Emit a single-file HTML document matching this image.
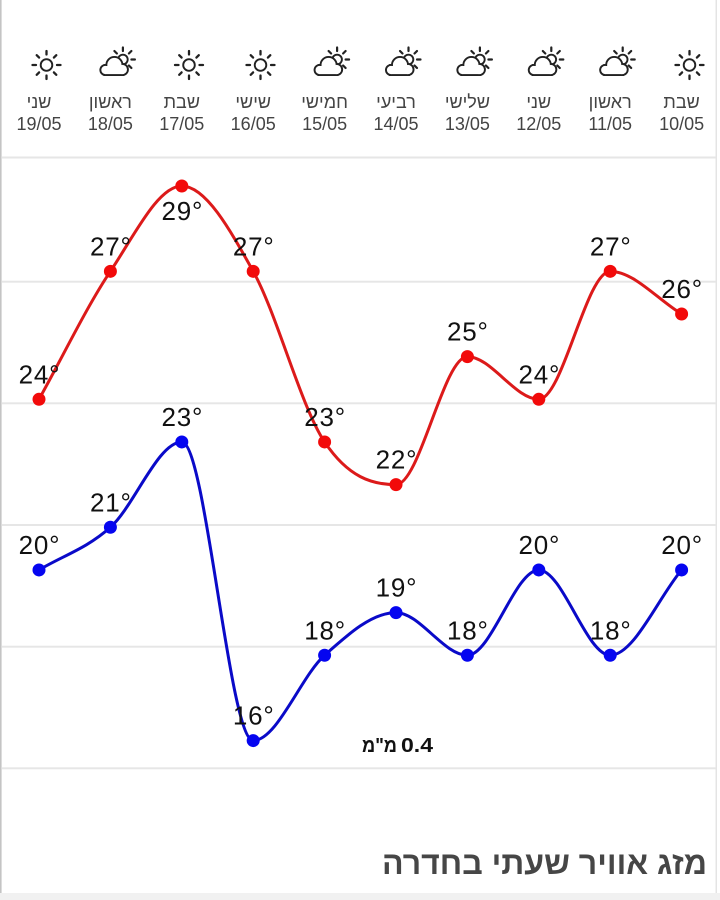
<!DOCTYPE html>
<html>
<head>
<meta charset="utf-8">
<style>
  html,body{margin:0;padding:0;background:#fff;}
  body{width:720px;height:900px;overflow:hidden;position:relative;}
  svg{position:absolute;left:0;top:0;}
  .day{font-family:"Liberation Sans","DejaVu Sans",sans-serif;font-size:18px;fill:#444;}
  .lbl{font-family:"Liberation Sans","DejaVu Sans",sans-serif;font-size:26px;fill:#111;letter-spacing:0.8px;}
</style>
</head>
<body>
<svg width="720" height="900" viewBox="0 0 720 900" xmlns="http://www.w3.org/2000/svg">
  <defs>
    <g id="sun" fill="none" stroke="#222" stroke-width="1.9" stroke-linecap="round">
      <circle cx="0" cy="0" r="5.8"/>
      <g stroke-width="2.3">
        <line x1="0" y1="-10.5" x2="0" y2="-14"/>
        <line x1="0" y1="10.5" x2="0" y2="14"/>
        <line x1="-10.5" y1="0" x2="-14" y2="0"/>
        <line x1="10.5" y1="0" x2="14" y2="0"/>
        <line x1="7.4" y1="-7.4" x2="9.8" y2="-9.8"/>
        <line x1="-7.4" y1="-7.4" x2="-9.8" y2="-9.8"/>
        <line x1="7.4" y1="7.4" x2="9.8" y2="9.8"/>
        <line x1="-7.4" y1="7.4" x2="-9.8" y2="9.8"/>
      </g>
    </g>
    <g id="cloud">
      <g fill="none" stroke="#222" stroke-linecap="round">
        <circle cx="12.5" cy="59.5" r="4.8" stroke-width="1.9"/>
        <g stroke-width="2.2">
          <line x1="12.5" y1="51" x2="12.5" y2="47.5"/>
          <line x1="18.5" y1="53.5" x2="21" y2="51"/>
          <line x1="21" y1="59.5" x2="24.5" y2="59.5"/>
          <line x1="18.5" y1="65.5" x2="21" y2="68"/>
          <line x1="6.5" y1="53.5" x2="4" y2="51"/>
        </g>
      </g>
      <g fill="#222" stroke="#222" stroke-width="3.8">
        <circle cx="-5" cy="70" r="4.1"/>
        <circle cx="4" cy="65" r="7.1"/>
        <circle cx="12" cy="69.5" r="4.6"/>
        <rect x="-5" y="66" width="17" height="8.1"/>
      </g>
      <g fill="#fff">
        <circle cx="-5" cy="70" r="4.1"/>
        <circle cx="4" cy="65" r="7.1"/>
        <circle cx="12" cy="69.5" r="4.6"/>
        <rect x="-5" y="66" width="17" height="8.1"/>
      </g>
    </g>
  </defs>

  <!-- borders -->
  <rect x="0" y="0" width="1.6" height="893" fill="#c4c4c4"/>
  <rect x="715.5" y="0" width="1.5" height="893" fill="#e4e4e4"/>
  <rect x="0" y="893" width="720" height="7" fill="#f1f1f1"/>

  <!-- icons -->
  <use href="#sun" x="46.5" y="65"/>
  <use href="#cloud" x="110.4" y="0"/>
  <use href="#sun" x="189" y="65"/>
  <use href="#sun" x="260.5" y="65"/>
  <use href="#cloud" x="324.6" y="0"/>
  <use href="#cloud" x="396" y="0"/>
  <use href="#cloud" x="467.4" y="0"/>
  <use href="#cloud" x="538.8" y="0"/>
  <use href="#cloud" x="610.2" y="0"/>
  <use href="#sun" x="689.5" y="65"/>

  <!-- day names -->
  <g class="day" text-anchor="middle">
    <text x="39" y="108">שני</text>
    <text x="110.4" y="108">ראשון</text>
    <text x="181.8" y="108">שבת</text>
    <text x="253.2" y="108">שישי</text>
    <text x="324.6" y="108">חמישי</text>
    <text x="396" y="108">רביעי</text>
    <text x="467.4" y="108">שלישי</text>
    <text x="538.8" y="108">שני</text>
    <text x="610.2" y="108">ראשון</text>
    <text x="681.6" y="108">שבת</text>

    <text x="39" y="130">19/05</text>
    <text x="110.4" y="130">18/05</text>
    <text x="181.8" y="130">17/05</text>
    <text x="253.2" y="130">16/05</text>
    <text x="324.6" y="130">15/05</text>
    <text x="396" y="130">14/05</text>
    <text x="467.4" y="130">13/05</text>
    <text x="538.8" y="130">12/05</text>
    <text x="610.2" y="130">11/05</text>
    <text x="681.6" y="130">10/05</text>
  </g>

  <!-- grid lines -->
  <g fill="#e6e6e6">
    <rect x="2" y="156.5" width="714" height="2"/>
    <rect x="2" y="280.7" width="714" height="2"/>
    <rect x="2" y="402.3" width="714" height="2"/>
    <rect x="2" y="524" width="714" height="2"/>
    <rect x="2" y="645.7" width="714" height="2"/>
    <rect x="2" y="767.3" width="714" height="2"/>
  </g>

  <!-- red line -->
  <path fill="none" stroke="#dc1a1a" stroke-width="3" stroke-linejoin="round"
    d="M39,399.3
       C62.8,356.64 86.6,306.87 110.4,271.32
       C134.2,235.77 158,186 181.8,186
       C205.6,186 229.4,228.66 253.2,271.32
       C277,313.98 300.8,406.41 324.6,441.96
       C348.4,477.51 372.2,484.62 396,484.62
       C419.8,484.62 443.6,356.64 467.4,356.64
       C491.2,356.64 515,399.3 538.8,399.3
       C562.6,399.3 586.4,271.32 610.2,271.32
       C634,271.32 657.8,299.76 681.6,313.98"/>

  <!-- blue line -->
  <path fill="none" stroke="#0a0ac8" stroke-width="3" stroke-linejoin="round"
    d="M39,569.94
       C62.8,555.72 86.6,548.61 110.4,527.28
       C134.2,505.95 158,441.96 181.8,441.96
       C205.6,441.96 229.4,740.58 253.2,740.58
       C277,740.58 300.8,676.59 324.6,655.26
       C348.4,633.93 372.2,612.6 396,612.6
       C419.8,612.6 443.6,655.26 467.4,655.26
       C491.2,655.26 515,569.94 538.8,569.94
       C562.6,569.94 586.4,655.26 610.2,655.26
       C634,655.26 657.8,598.38 681.6,569.94"/>

  <!-- red points -->
  <g fill="#f20a0a">
    <circle cx="39" cy="399.3" r="6.5"/>
    <circle cx="110.4" cy="271.32" r="6.5"/>
    <circle cx="181.8" cy="186" r="6.5"/>
    <circle cx="253.2" cy="271.32" r="6.5"/>
    <circle cx="324.6" cy="441.96" r="6.5"/>
    <circle cx="396" cy="484.62" r="6.5"/>
    <circle cx="467.4" cy="356.64" r="6.5"/>
    <circle cx="538.8" cy="399.3" r="6.5"/>
    <circle cx="610.2" cy="271.32" r="6.5"/>
    <circle cx="681.6" cy="313.98" r="6.5"/>
  </g>
  <!-- blue points -->
  <g fill="#0505f0">
    <circle cx="39" cy="569.94" r="6.5"/>
    <circle cx="110.4" cy="527.28" r="6.5"/>
    <circle cx="181.8" cy="441.96" r="6.5"/>
    <circle cx="253.2" cy="740.58" r="6.5"/>
    <circle cx="324.6" cy="655.26" r="6.5"/>
    <circle cx="396" cy="612.6" r="6.5"/>
    <circle cx="467.4" cy="655.26" r="6.5"/>
    <circle cx="538.8" cy="569.94" r="6.5"/>
    <circle cx="610.2" cy="655.26" r="6.5"/>
    <circle cx="681.6" cy="569.94" r="6.5"/>
  </g>

  <!-- labels -->
  <g class="lbl" text-anchor="middle">
    <text x="39.5" y="383.3">24°</text>
    <text x="110.9" y="255.3">27°</text>
    <text x="182.3" y="220">29°</text>
    <text x="253.7" y="255.3">27°</text>
    <text x="325.1" y="426">23°</text>
    <text x="396.5" y="468.6">22°</text>
    <text x="467.9" y="340.6">25°</text>
    <text x="539.3" y="383.3">24°</text>
    <text x="610.7" y="255.3">27°</text>
    <text x="682.1" y="298">26°</text>

    <text x="39.5" y="553.9">20°</text>
    <text x="110.9" y="511.3">21°</text>
    <text x="182.3" y="426">23°</text>
    <text x="253.7" y="724.6">16°</text>
    <text x="325.1" y="639.3">18°</text>
    <text x="396.5" y="596.6">19°</text>
    <text x="467.9" y="639.3">18°</text>
    <text x="539.3" y="553.9">20°</text>
    <text x="610.7" y="639.3">18°</text>
    <text x="682.1" y="553.9">20°</text>
  </g>

  <!-- rain amount -->
  <g font-family="Liberation Sans, DejaVu Sans, sans-serif" font-size="20" font-weight="bold" fill="#111">
    <text x="362" y="752" textLength="35" lengthAdjust="spacingAndGlyphs">מ&quot;מ</text>
    <text x="401" y="752" textLength="32" lengthAdjust="spacingAndGlyphs">0.4</text>
  </g>

  <!-- title -->
  <text x="382" y="874" font-family="Liberation Sans, DejaVu Sans, sans-serif" font-size="32" font-weight="bold" fill="#464646" textLength="325" lengthAdjust="spacingAndGlyphs">מזג אוויר שעתי בחדרה</text>
</svg>
</body>
</html>
